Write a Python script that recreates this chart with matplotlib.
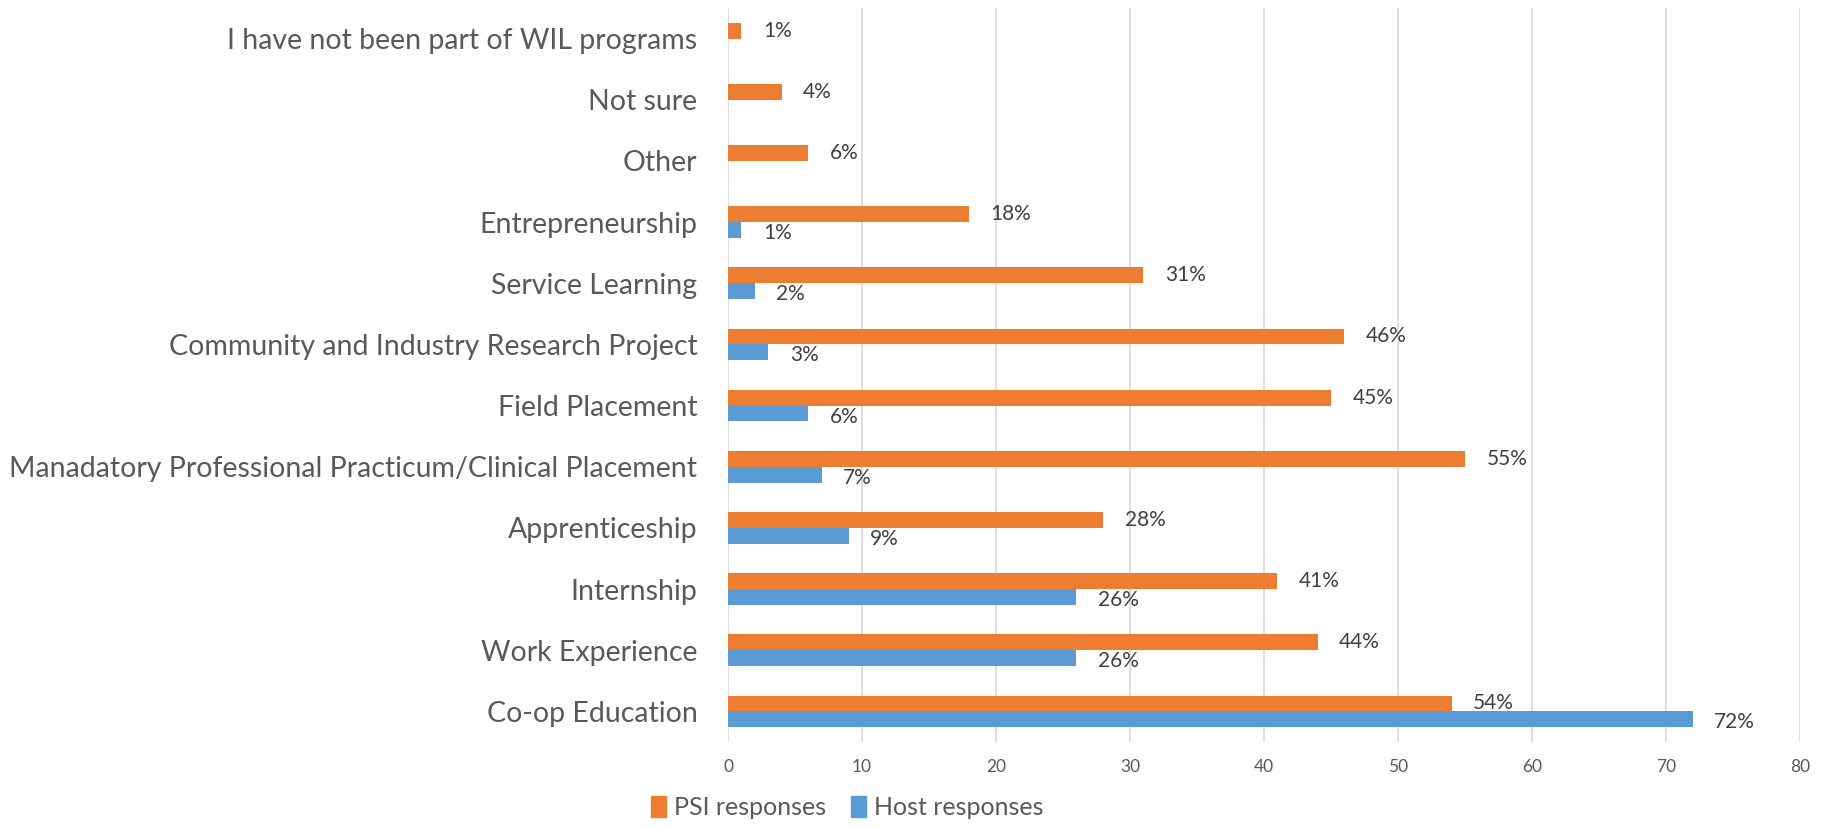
import numpy as np
import matplotlib
matplotlib.use('Agg')
from matplotlib import pyplot as plt
from matplotlib.patches import Patch

# Categories listed bottom to top, as drawn on the chart
categories = ["Co-op Education", "Work Experience", "Internship", "Apprenticeship",
              "Manadatory Professional Practicum/Clinical Placement", "Field Placement",
              "Community and Industry Research Project", "Service Learning",
              "Entrepreneurship", "Other", "Not sure", "I have not been part of WIL programs"]
psi = [54, 44, 41, 28, 55, 45, 46, 31, 18, 6, 4, 1]
host = [72, 26, 26, 9, 7, 6, 3, 2, 1, None, None, None]
xticks = [0, 10, 20, 30, 40, 50, 60, 70, 80]

orange = "#ED7D31"
blue = "#5B9BD5"
text_gray = "#595959"

plt.rcParams['font.family'] = ['Lato', 'DejaVu Sans']

fig = plt.figure(figsize=(18.26, 8.27), dpi=100)
ax = fig.add_axes([0.3987, 0.1028, 0.5871, 0.8875])

y = np.arange(len(categories))
w = 0.26

host_vals = [np.nan if v is None else v for v in host]
ax.barh(y + w / 2, psi, height=w, color=orange, zorder=3)
ax.barh(y - w / 2, host_vals, height=w, color=blue, zorder=3)

# data labels
for yi, v in zip(y, psi):
    ax.text(v + 1.6, yi + w / 2, f"{v}%", va="center", ha="left", fontsize=15, color="#404040")
for yi, v in zip(y, host):
    if v is not None:
        ax.text(v + 1.6, yi - w / 2 - 0.05, f"{v}%", va="center", ha="left", fontsize=15, color="#404040")

ax.set_xlim(0, 80)
ax.set_ylim(-0.5, len(categories) - 0.5)
ax.set_xticks(xticks)
ax.set_yticks(y)
ax.set_yticklabels(categories, fontsize=20.5, color=text_gray)
ax.tick_params(axis="x", labelsize=12.5, colors=text_gray, length=0, pad=12)
ax.tick_params(axis="y", length=0, pad=22)
ax.xaxis.grid(True, color="#D9D9D9", linewidth=1.2, zorder=0)
for s in ax.spines.values():
    s.set_visible(False)

handles = [Patch(color=orange, label="PSI responses"), Patch(color=blue, label="Host responses")]
fig.legend(handles=handles, loc="center", bbox_to_anchor=(0.464, 0.023), ncol=2, frameon=False,
           fontsize=18, labelcolor=text_gray, handlelength=0.6, handleheight=0.9,
           handletextpad=0.3, columnspacing=1.0)

fig.savefig("out.png", dpi=100)
